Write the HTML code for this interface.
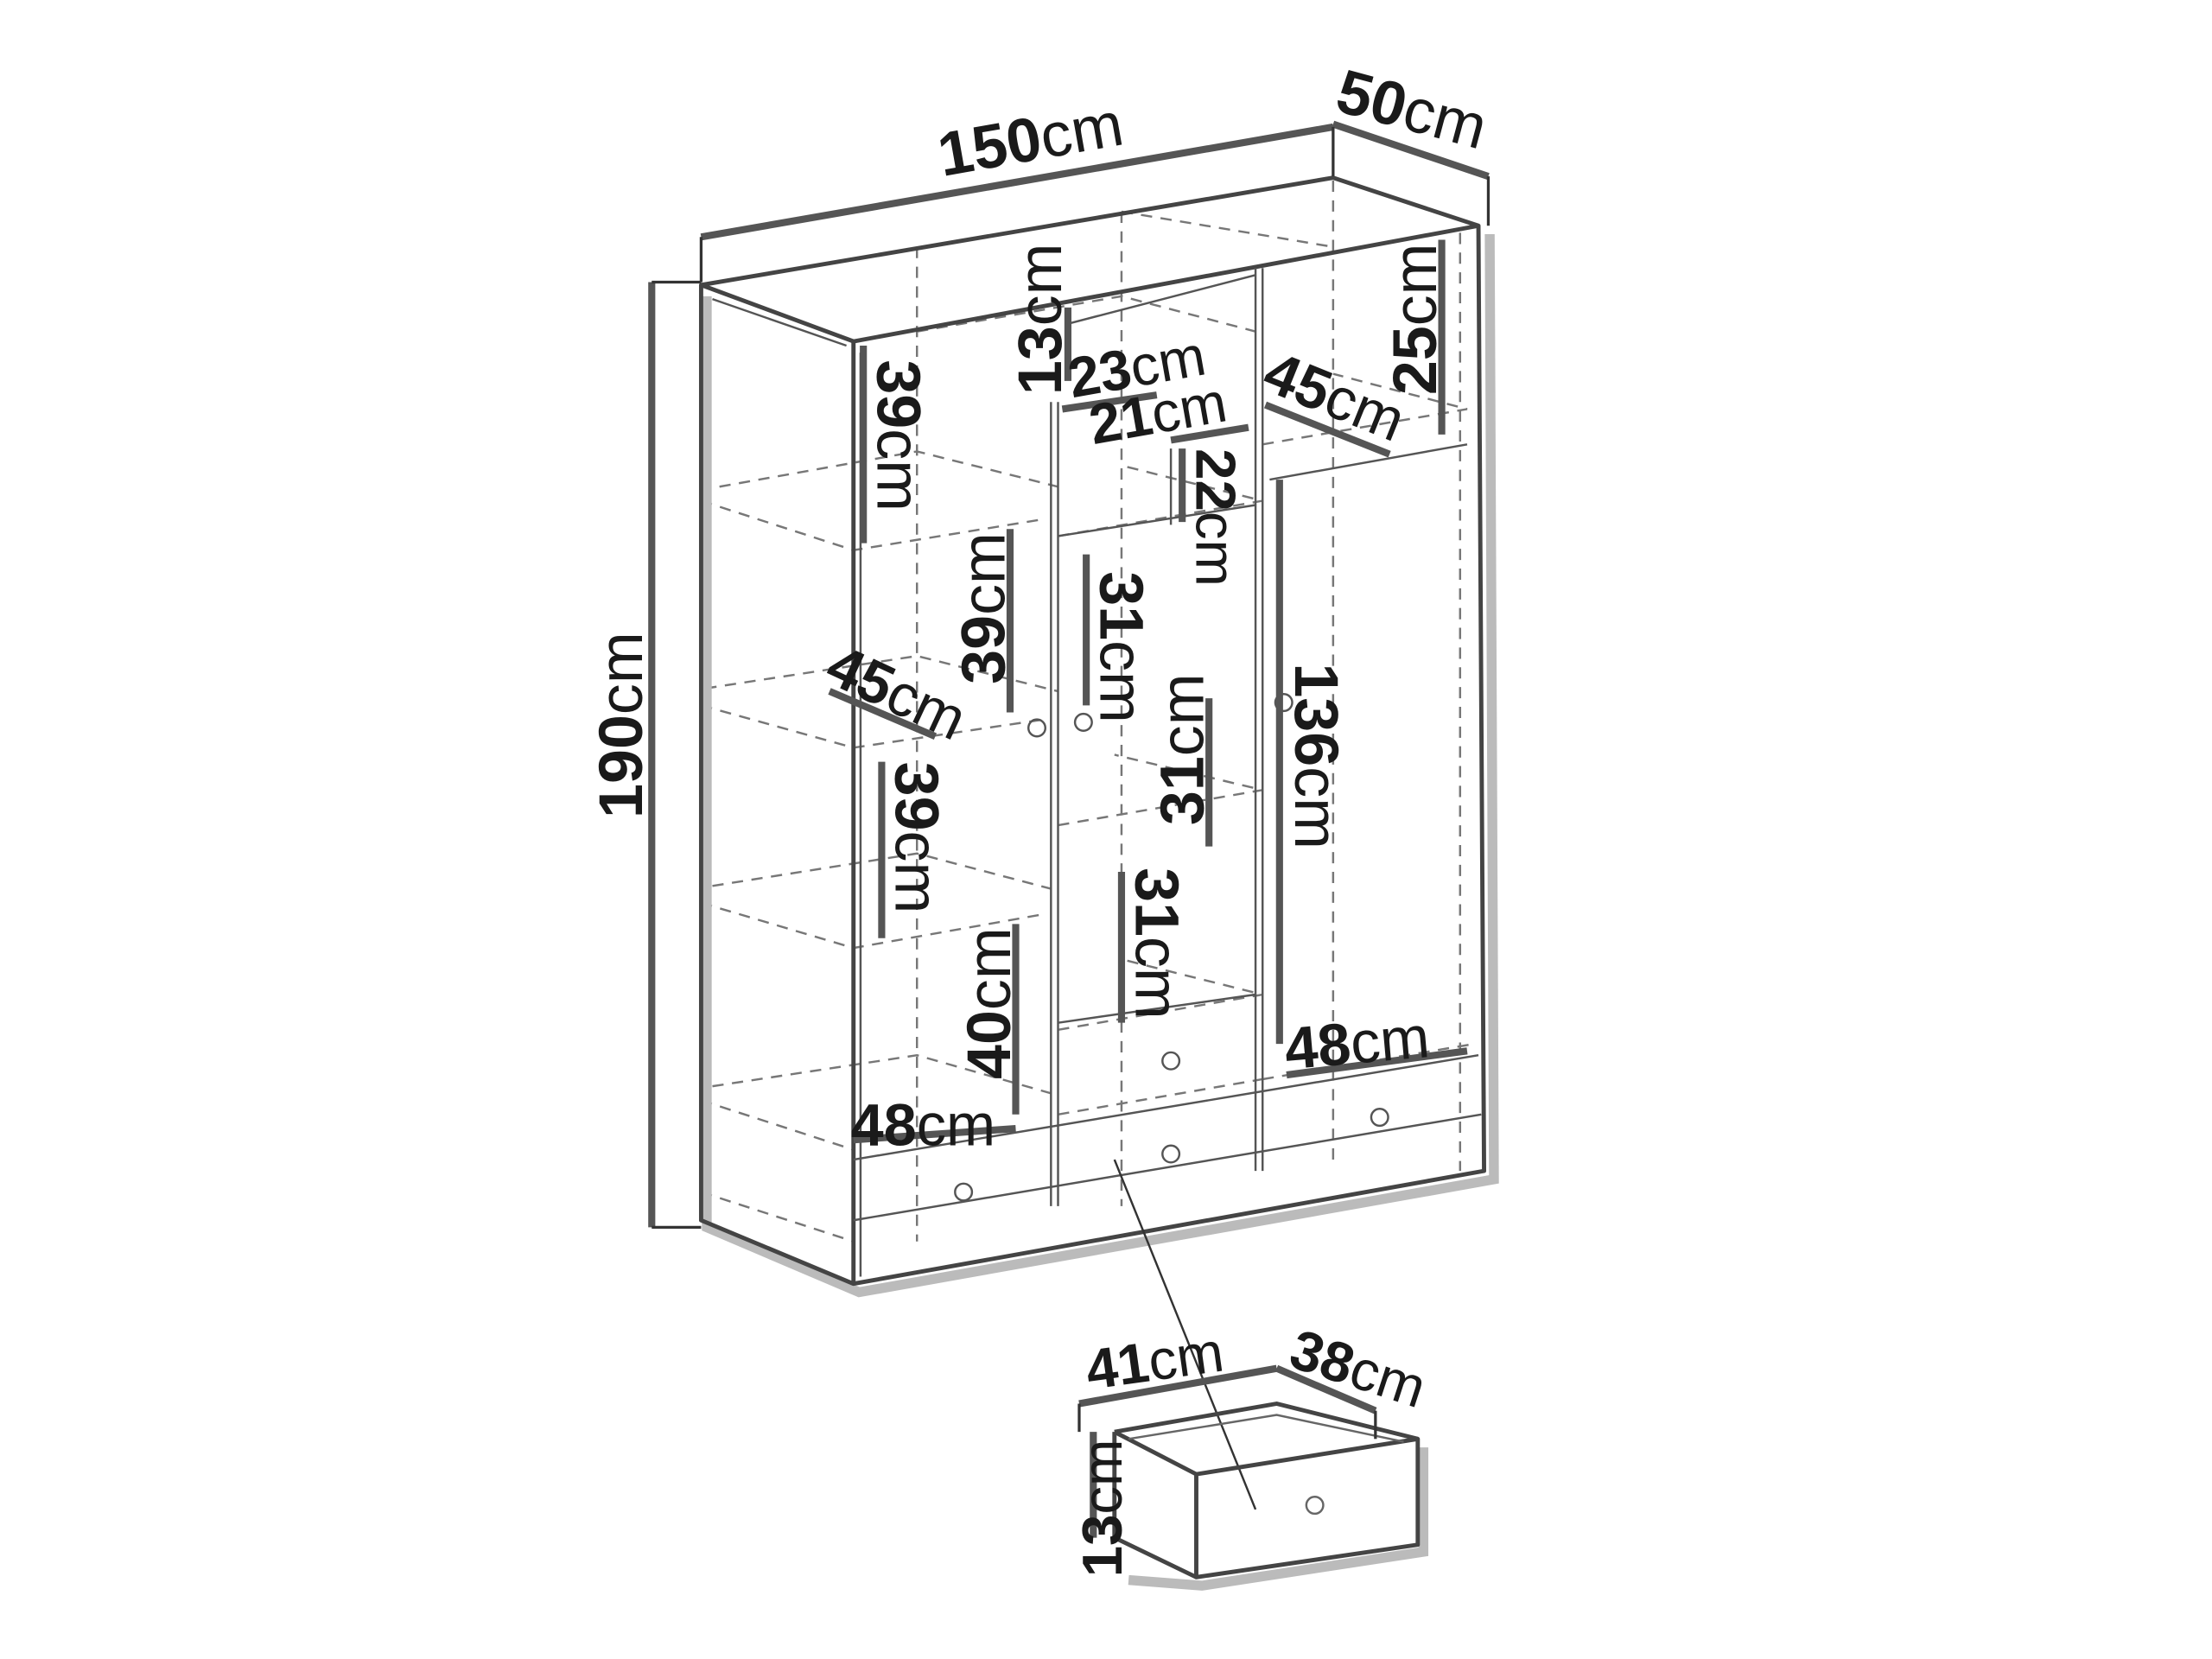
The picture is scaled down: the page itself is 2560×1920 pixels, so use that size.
<!DOCTYPE html>
<html><head><meta charset="utf-8"><style>html,body{margin:0;padding:0;background:#fff}svg{display:block}</style></head>
<body>
<svg width="2560" height="1920" viewBox="0 0 1568 1176" xmlns="http://www.w3.org/2000/svg" font-family="Liberation Sans, sans-serif">
<rect width="1568" height="1176" fill="#fff"/>
<!-- dashed interior -->
<g stroke="#777" stroke-width="1.5" fill="none" stroke-dasharray="8,6">
<line x1="650" y1="175" x2="650" y2="880"/><line x1="795" y1="150" x2="795" y2="855"/><line x1="945" y1="128" x2="945" y2="828"/><line x1="1035" y1="165" x2="1035" y2="830"/>
<polyline points="497,355 605,390 740,368"/><polyline points="510,345 650,320 750,345"/>
<polyline points="497,500 605,530 740,510"/><polyline points="500,488 650,465 750,490"/>
<polyline points="497,640 605,672 740,648"/><polyline points="505,628 650,605 745,630"/>
<polyline points="497,780 605,815"/><polyline points="505,770 650,748 745,775"/>
<polyline points="750,585 895,560 790,535"/><polyline points="750,730 895,705 795,680"/>
<polyline points="750,380 895,355 795,330"/><polyline points="895,315 1040,290 945,265"/>
<polyline points="650,235 795,210 890,235"/><polyline points="795,150 945,175"/>
<polyline points="497,845 605,880"/><polyline points="750,790 895,765"/><polyline points="895,765 1045,740"/>
</g>
<!-- shadow -->
<g stroke="#bbb" stroke-width="7" fill="none">
<polyline points="501,210 501,870 609,916 1059,836 1056,166"/>
<polyline points="800,1120 852,1124 1009,1100 1009,1026"/>
</g>
<!-- outline -->
<g stroke="#444" stroke-width="3" fill="none" stroke-linejoin="round">
<polygon points="497,202 945,126 1048,160 605,242"/>
<polyline points="497,202 497,865 605,910 1052,830 1048,160"/>
<line x1="605" y1="242" x2="605" y2="910"/>
</g>
<g stroke="#555" stroke-width="1.5" fill="none">
<line x1="505" y1="212" x2="600" y2="245"/>
<line x1="750" y1="285" x2="750" y2="855"/><line x1="745" y1="285" x2="745" y2="855"/>
<line x1="895" y1="190" x2="895" y2="830"/><line x1="890" y1="190" x2="890" y2="830"/>
<line x1="610" y1="250" x2="610" y2="905"/>
<line x1="605" y1="822" x2="1048" y2="748"/><line x1="605" y1="865" x2="1050" y2="790"/>
<line x1="750" y1="380" x2="890" y2="358"/><line x1="830" y1="318" x2="830" y2="372"/>
<line x1="755" y1="230" x2="890" y2="195"/>
<line x1="750" y1="725" x2="890" y2="705"/>
<line x1="900" y1="340" x2="1040" y2="315"/>
<circle cx="683" cy="845" r="6"/><circle cx="830" cy="818" r="6"/><circle cx="978" cy="792" r="6"/>
<circle cx="830" cy="752" r="6"/><circle cx="735" cy="516" r="6"/><circle cx="768" cy="512" r="6"/><circle cx="910" cy="498" r="6"/>
<line x1="790" y1="822" x2="890" y2="1070" stroke="#333"/>
</g>
<!-- drawer -->
<g stroke="#444" stroke-width="3" fill="none" stroke-linejoin="round">
<polyline points="790,1015 905,995 1005,1020"/>
<polygon points="848,1045 1005,1020 1005,1095 848,1118"/>
<polyline points="790,1015 848,1045"/><polyline points="790,1015 790,1090 848,1118"/>
</g>
<g stroke="#666" stroke-width="1.5" fill="none"><polyline points="800,1020 905,1003 995,1022"/><circle cx="932" cy="1067" r="6"/></g>
<!-- dimension bars -->
<g stroke="#555" stroke-width="5" fill="none" stroke-linecap="butt">
<line x1="497" y1="168" x2="945" y2="90"/><line x1="945" y1="88" x2="1055" y2="125"/>
<line x1="462" y1="200" x2="462" y2="870"/>
<line x1="612" y1="245" x2="612" y2="385"/><line x1="757" y1="218" x2="757" y2="270"/>
<line x1="753" y1="290" x2="820" y2="280"/><line x1="830" y1="312" x2="885" y2="303"/>
<line x1="838" y1="318" x2="838" y2="370"/><line x1="897" y1="287" x2="985" y2="322"/>
<line x1="1022" y1="170" x2="1022" y2="308"/><line x1="716" y1="375" x2="716" y2="505"/>
<line x1="770" y1="393" x2="770" y2="500"/><line x1="588" y1="490" x2="663" y2="522"/>
<line x1="857" y1="495" x2="857" y2="600"/><line x1="907" y1="340" x2="907" y2="740"/>
<line x1="625" y1="540" x2="625" y2="665"/><line x1="795" y1="618" x2="795" y2="725"/>
<line x1="720" y1="655" x2="720" y2="790"/><line x1="605" y1="808" x2="720" y2="800"/>
<line x1="912" y1="762" x2="1040" y2="745"/>
<line x1="765" y1="995" x2="905" y2="970"/><line x1="905" y1="970" x2="975" y2="1000"/>
<line x1="775" y1="1015" x2="775" y2="1090"/>
</g>
<g stroke="#333" stroke-width="2">
<line x1="497" y1="168" x2="497" y2="200"/><line x1="945" y1="90" x2="945" y2="125"/><line x1="1055" y1="125" x2="1055" y2="160"/>
<line x1="462" y1="200" x2="497" y2="200"/><line x1="462" y1="870" x2="497" y2="870"/>
<line x1="765" y1="995" x2="765" y2="1015"/><line x1="975" y1="1000" x2="975" y2="1020"/>
</g>
<!-- labels -->
<g fill="#1a1a1a" font-size="44">
<text transform="translate(668,125) rotate(-10)"><tspan font-weight="bold">150</tspan>cm</text>
<text transform="translate(945,78) rotate(15)"><tspan font-weight="bold">50</tspan>cm</text>
<text transform="translate(455,580) rotate(-90)"><tspan font-weight="bold">190</tspan>cm</text>
<text transform="translate(622,255) rotate(90)"><tspan font-weight="bold">39</tspan>cm</text>
<text transform="translate(752,280) rotate(-90)"><tspan font-weight="bold">13</tspan>cm</text>
<text transform="translate(760,282) rotate(-10)" font-size="40"><tspan font-weight="bold">23</tspan>cm</text>
<text transform="translate(775,315) rotate(-10)" font-size="40"><tspan font-weight="bold">21</tspan>cm</text>
<text transform="translate(848,318) rotate(90)" font-size="40"><tspan font-weight="bold">22</tspan>cm</text>
<text transform="translate(893,275) rotate(22)" font-size="42"><tspan font-weight="bold">45</tspan>cm</text>
<text transform="translate(1018,280) rotate(-90)"><tspan font-weight="bold">25</tspan>cm</text>
<text transform="translate(712,485) rotate(-90)"><tspan font-weight="bold">39</tspan>cm</text>
<text transform="translate(780,405) rotate(90)"><tspan font-weight="bold">31</tspan>cm</text>
<text transform="translate(583,482) rotate(25)" font-size="42"><tspan font-weight="bold">45</tspan>cm</text>
<text transform="translate(853,585) rotate(-90)"><tspan font-weight="bold">31</tspan>cm</text>
<text transform="translate(918,470) rotate(90)"><tspan font-weight="bold">136</tspan>cm</text>
<text transform="translate(635,540) rotate(90)"><tspan font-weight="bold">39</tspan>cm</text>
<text transform="translate(805,615) rotate(90)"><tspan font-weight="bold">31</tspan>cm</text>
<text transform="translate(716,765) rotate(-90)"><tspan font-weight="bold">40</tspan>cm</text>
<text transform="translate(603,812)" font-size="42"><tspan font-weight="bold">48</tspan>cm</text>
<text transform="translate(912,758) rotate(-5)" font-size="42"><tspan font-weight="bold">48</tspan>cm</text>
<text transform="translate(772,985) rotate(-8)" font-size="40"><tspan font-weight="bold">41</tspan>cm</text>
<text transform="translate(912,968) rotate(18)" font-size="40"><tspan font-weight="bold">38</tspan>cm</text>
<text transform="translate(795,1118) rotate(-90)" font-size="40"><tspan font-weight="bold">13</tspan>cm</text>
</g>
</svg>
</body></html>
